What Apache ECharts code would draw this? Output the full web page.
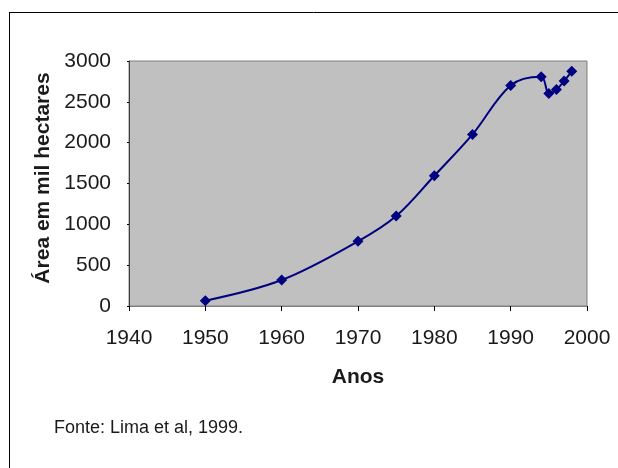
<!DOCTYPE html>
<html>
<head>
<meta charset="utf-8">
<script src="https://cdn.jsdelivr.net/npm/echarts@6/dist/echarts.min.js"></script>
<style>
  html, body { margin: 0; padding: 0; background: #fff; }
  #chart { width: 618px; height: 468px; }
</style>
</head>
<body>
<div id="chart"></div>
<script>
// anos e área plantada (mil hectares)
const years = [1950, 1960, 1970, 1975, 1980, 1985, 1990, 1994, 1995, 1996, 1997, 1998]
const area = [65, 318, 792, 1101, 1595, 2101, 2701, 2807, 2603, 2652, 2754, 2873]

const font = '"Liberation Sans", Arial, sans-serif'
const chart = echarts.init(document.getElementById('chart'))

chart.setOption({
  animation: false,
  textStyle: { fontFamily: font },
  title: {
    text: 'Fonte: Lima et al, 1999.',
    left: 49,
    top: 414,
    textStyle: { fontSize: 18, fontWeight: 'normal', color: '#1a1a1a', fontFamily: font }
  },
  grid: {
    left: 129, right: 31, top: 61, bottom: 162,
    show: true,
    backgroundColor: '#c0c0c0',
    borderColor: '#808080',
    borderWidth: 1
  },
  xAxis: {
    type: 'value',
    min: 1940, max: 2000, interval: 10,
    name: 'Anos',
    nameLocation: 'middle',
    nameGap: 61,
    nameTextStyle: { fontSize: 21, fontWeight: 'bold', color: '#1a1a1a' },
    axisLine: { lineStyle: { color: '#808080', width: 1 } },
    axisTick: { show: true, length: 5, lineStyle: { color: '#000' } },
    axisLabel: { fontSize: 21, color: '#1a1a1a', margin: 22, formatter: v => String(v) },
    splitLine: { show: false }
  },
  yAxis: {
    type: 'value',
    min: 0, max: 3000, interval: 500,
    name: 'Área em mil hectares',
    nameLocation: 'middle',
    nameGap: 71,
    nameTextStyle: { fontSize: 21, fontWeight: 'bold', color: '#1a1a1a', padding: [0, 0, 0, 11] },
    axisLine: { show: true, lineStyle: { color: '#404040', width: 1 } },
    axisTick: { show: true, length: 2, lineStyle: { color: '#000' } },
    axisLabel: { fontSize: 21, color: '#1a1a1a', margin: 18, formatter: v => String(v) },
    splitLine: { show: false }
  },
  graphic: [
    { type: 'line', shape: { x1: 9, y1: 12.5, x2: 618, y2: 12.5 }, style: { stroke: '#000', lineWidth: 1 } },
    { type: 'line', shape: { x1: 9.5, y1: 12, x2: 9.5, y2: 468 }, style: { stroke: '#000', lineWidth: 1 } }
  ],
  series: [
    {
      type: 'line',
      data: years.map((y, i) => [y, area[i]]),
      smooth: 0.35,
      symbol: 'diamond',
      symbolSize: 11,
      lineStyle: { color: '#000080', width: 2 },
      itemStyle: { color: '#000080' }
    }
  ]
})
</script>
</body>
</html>
